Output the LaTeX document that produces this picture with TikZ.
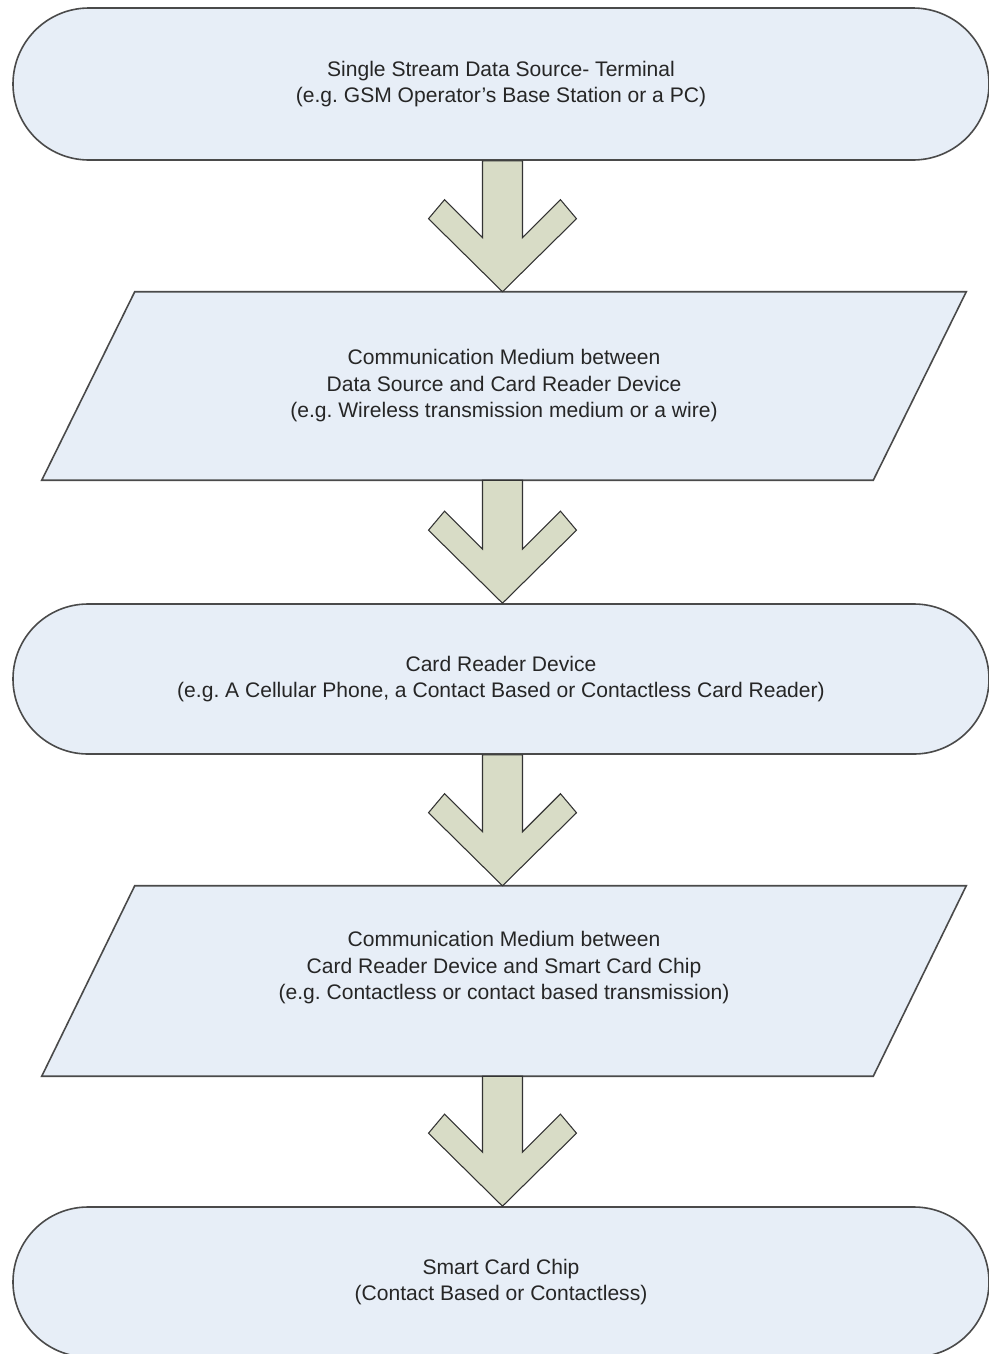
\documentclass[tikz,border=0pt]{standalone}
\usepackage{fontspec}
\setmainfont{Liberation Sans}
\usetikzlibrary{shapes.misc,calc,backgrounds}
\frenchspacing
\definecolor{boxfill}{HTML}{E7EEF7}
\definecolor{boxline}{HTML}{4A4A4A}
\definecolor{arrowfill}{HTML}{D8DCC6}
\definecolor{arrowline}{HTML}{333333}
\tikzset{
  term/.style={rounded rectangle, draw=boxline, fill=boxfill, line width=1.2pt,
    minimum width=732pt, inner sep=0pt, align=center,
    font=\fontsize{15.8pt}{19.9pt}\selectfont, text=black!85},
  parabox/.style={rectangle, minimum width=693pt, inner sep=0pt, align=center,
    font=\fontsize{15.8pt}{19.9pt}\selectfont, text=black!85},
  paratext/.style={align=center, inner sep=0pt,
    font=\fontsize{15.8pt}{19.9pt}\selectfont, text=black!85},
  parashape/.style={draw=boxline, fill=boxfill, line width=1.2pt, line join=miter},
  blockarr/.style={draw=arrowline, fill=arrowfill, line width=0.8pt, line join=miter},
}
\newcommand\blockarrow[2]{%
  \draw[blockarr] let \p1=(#1), \p2=(#2), \p3=($(#1)!0.5!(#2)$) in
    (\x3-15pt,\y1) -- (\x3-15pt,\y2+40.5pt) -- (\x3-43.5pt,\y2+69pt)
    -- (\x3-55.5pt,\y2+54.75pt) -- (\x3,\y2) -- (\x3+55.5pt,\y2+54.75pt)
    -- (\x3+43.5pt,\y2+69pt) -- (\x3+15pt,\y2+40.5pt) -- (\x3+15pt,\y1) -- cycle;}
\newcommand\paradraw[1]{%
  \begin{pgfonlayer}{background}
    \path[parashape] ($(#1.north west)+(69.75pt,0)$) -- (#1.north east)
      -- ($(#1.south east)+(-69.75pt,0)$) -- (#1.south west) -- cycle;
  \end{pgfonlayer}}
\begin{document}
\begin{tikzpicture}[x=0.75pt,y=-0.75pt]
\useasboundingbox (0,0) rectangle (989,1354);

\node[term, minimum height=114pt] (t1) at (501,84)
  {Single Stream Data Source- Terminal\\(e.g. GSM Operator's Base Station or a PC)};

\node[parabox, minimum height=141pt] (p1) at (504,386)
  {Communication Medium between\\Data Source and Card Reader Device\\(e.g. Wireless transmission medium or a wire)};
\paradraw{p1}

\node[term, minimum height=112.5pt] (t2) at (501,679)
  {Card Reader Device\\(e.g. A Cellular Phone, a Contact Based or Contactless Card Reader)};

\node[parabox, minimum height=142.5pt] (p2) at (504,981) {};
\paradraw{p2}
\node[paratext] (p2t) at ([yshift=10pt]p2.center)
  {Communication Medium between\\Card Reader Device and Smart Card Chip\\(e.g. Contactless or contact based transmission)};

\node[term, minimum height=112.5pt] (t3) at (501,1282)
  {Smart Card Chip\\(Contact Based or Contactless)};

\blockarrow{t1.south}{p1.north}
\blockarrow{p1.south}{t2.north}
\blockarrow{t2.south}{p2.north}
\blockarrow{p2.south}{t3.north}
\end{tikzpicture}
\end{document}
